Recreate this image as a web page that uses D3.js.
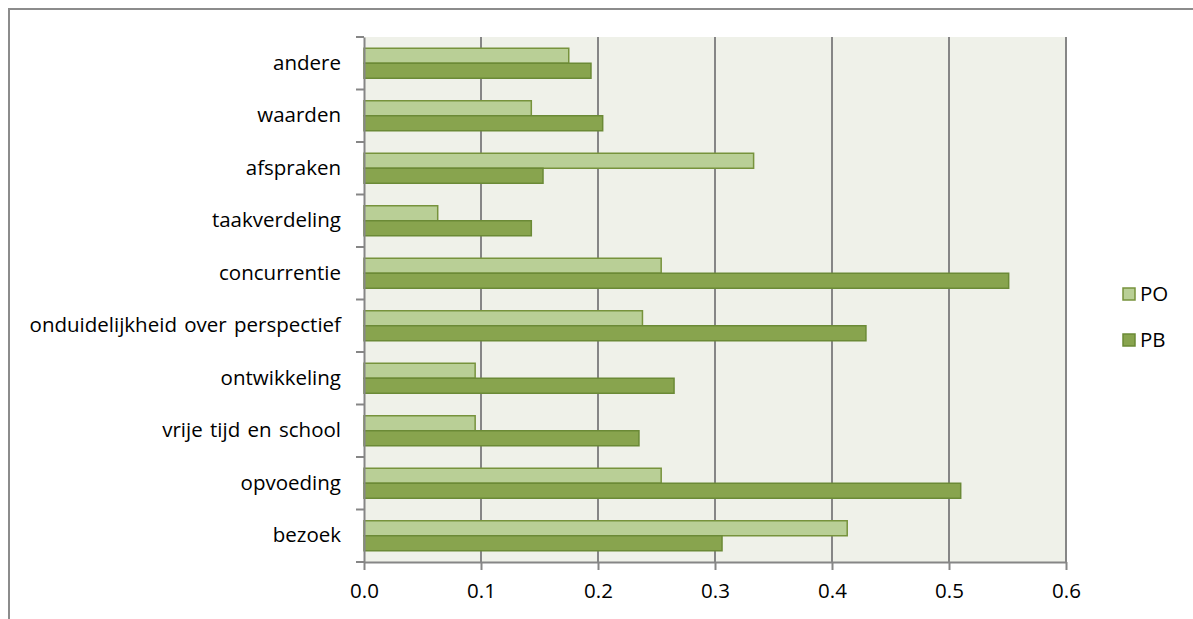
<!DOCTYPE html>
<html>
<head>
<meta charset="utf-8">
<script src="https://cdn.jsdelivr.net/npm/d3@7"></script>
<style>
  body { margin: 0; background: #fff; }
  text { font-family: "Open Sans", sans-serif; fill: #000; }
</style>
</head>
<body>
<div id="chart"></div>
<script>
// categories top -> bottom
var categories = ["andere", "waarden", "afspraken", "taakverdeling", "concurrentie",
  "onduidelijkheid over perspectief", "ontwikkeling", "vrije tijd en school", "opvoeding", "bezoek"];
var seriesNames = ["PO", "PB"];
var poValues = [0.175, 0.143, 0.333, 0.063, 0.254, 0.238, 0.095, 0.095, 0.254, 0.413];
var pbValues = [0.194, 0.204, 0.153, 0.143, 0.551, 0.429, 0.265, 0.235, 0.510, 0.306];
var xTicks = [0, 0.1, 0.2, 0.3, 0.4, 0.5, 0.6];

var colors = { PO: "#b9cf96", PB: "#88a44e" };
var strokes = { PO: "#77933c", PB: "#6b8a36" };

var W = 1193, H = 619;
var margin = { top: 37, left: 364, right: 127, bottom: 57 };

var svg = d3.select("#chart").append("svg")
    .attr("width", W)
    .attr("height", H);

// outer frame (Excel chart area border)
svg.append("path")
    .attr("d", "M9," + H + "V9H" + W)
    .attr("fill", "none")
    .attr("stroke", "#8c8c8c")
    .attr("stroke-width", 2);

var x = d3.scaleLinear()
    .domain([0, 0.6])
    .range([margin.left, W - margin.right]);

var y = d3.scaleBand()
    .domain(categories)
    .range([margin.top, H - margin.bottom]);

var rows = categories.map(function (c, i) {
    return { cat: c, PO: poValues[i], PB: pbValues[i] };
});

var barH = 15;

// plot background
svg.append("rect")
    .attr("x", x(0))
    .attr("y", y.range()[0])
    .attr("width", x(0.6) - x(0))
    .attr("height", y.range()[1] - y.range()[0])
    .attr("fill", "#eff1e9");

// vertical gridlines
svg.append("g")
    .selectAll("line")
    .data(xTicks.slice(1))
    .enter()
    .append("line")
    .attr("x1", function (d) { return x(d); })
    .attr("x2", function (d) { return x(d); })
    .attr("y1", y.range()[0])
    .attr("y2", y.range()[1])
    .attr("stroke", "#868686")
    .attr("stroke-width", 2);

// bars
var groups = svg.selectAll(".row")
    .data(rows)
    .enter()
    .append("g")
    .attr("class", "row");

seriesNames.forEach(function (s, k) {
    groups.append("rect")
        .attr("x", x(0))
        .attr("y", function (d) { return y(d.cat) + y.bandwidth() / 2 - barH + k * barH; })
        .attr("width", function (d) { return x(d[s]) - x(0); })
        .attr("height", barH)
        .attr("fill", colors[s])
        .attr("stroke", strokes[s])
        .attr("stroke-width", 1.5);
});

// y axis
var yAxis = d3.axisLeft(y).tickSize(0).tickPadding(23);
var gy = svg.append("g")
    .attr("transform", "translate(" + x(0) + ",0)")
    .call(yAxis);
gy.select(".domain").attr("stroke", "#868686").attr("stroke-width", 2);
gy.selectAll("text").style("font-size", "20.5px").style("word-spacing", "2px");

// category boundary ticks on the y axis
svg.append("g")
    .selectAll("line")
    .data(categories.concat(["_end"]))
    .enter()
    .append("line")
    .attr("x1", x(0) - 8)
    .attr("x2", x(0))
    .attr("y1", function (d, i) { return i < categories.length ? y(d) : y.range()[1]; })
    .attr("y2", function (d, i) { return i < categories.length ? y(d) : y.range()[1]; })
    .attr("stroke", "#868686")
    .attr("stroke-width", 2);

// x axis
var xAxis = d3.axisBottom(x)
    .tickValues(xTicks)
    .tickFormat(d3.format(".1f"))
    .tickSizeInner(8)
    .tickSizeOuter(0)
    .tickPadding(13);
var gx = svg.append("g")
    .attr("transform", "translate(0," + y.range()[1] + ")")
    .call(xAxis);
gx.select(".domain").attr("stroke", "#868686").attr("stroke-width", 2);
gx.selectAll(".tick line").attr("stroke", "#868686").attr("stroke-width", 2);
gx.selectAll("text").style("font-size", "20.5px");

// legend
var legend = svg.append("g")
    .selectAll("g")
    .data(seriesNames)
    .enter()
    .append("g")
    .attr("transform", function (d, i) { return "translate(1123," + (294 + i * 46) + ")"; });
legend.append("rect")
    .attr("x", 0)
    .attr("y", -6)
    .attr("width", 12)
    .attr("height", 12)
    .attr("fill", function (d) { return colors[d]; })
    .attr("stroke", function (d) { return strokes[d]; })
    .attr("stroke-width", 1.5);
legend.append("text")
    .attr("x", 17)
    .attr("dy", "0.35em")
    .style("font-size", "20.5px")
    .text(function (d) { return d; });
</script>
</body>
</html>
